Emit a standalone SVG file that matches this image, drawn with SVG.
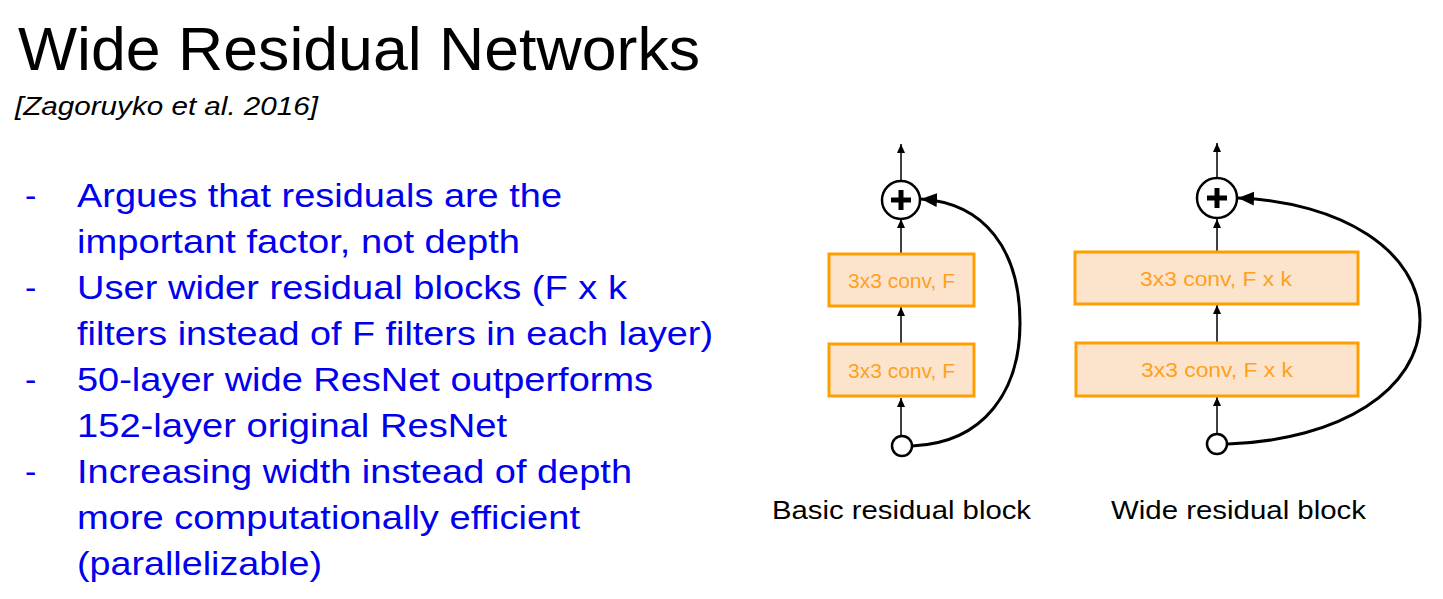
<svg xmlns="http://www.w3.org/2000/svg" width="1443" height="599" viewBox="0 0 1443 599">
<style>
.t{font-family:"Liberation Sans",Arial,sans-serif}
.b{font-family:"Liberation Sans",Arial,sans-serif;font-size:34px;fill:#0000ee}
.box{fill:#fce4cc;stroke:#ff9e00;stroke-width:3}
.bt{font-family:"Liberation Sans",Arial,sans-serif;font-size:20px;fill:#ffa020}
.ln{stroke:#000;stroke-width:1.5;fill:none}
.cv{stroke:#000;stroke-width:3;fill:none}
.nd{fill:#fff;stroke:#000;stroke-width:2.5}
.lb{font-family:"Liberation Sans",Arial,sans-serif;font-size:25px;fill:#000}
</style>
<defs>
<marker id="sa" markerUnits="userSpaceOnUse" markerWidth="10" markerHeight="10" refX="9" refY="5" orient="auto"><path d="M0,1 L9,5 L0,9 Z" fill="#000"/></marker>
<marker id="la" markerUnits="userSpaceOnUse" markerWidth="18" markerHeight="16" refX="16" refY="8" orient="auto"><path d="M0,1 L16,8 L0,15 Z" fill="#000"/></marker>
</defs>
<rect width="1443" height="599" fill="#fff"/>
<text class="t" x="18" y="70" font-size="62" textLength="682" lengthAdjust="spacingAndGlyphs">Wide Residual Networks</text>
<text class="t" x="15" y="115" font-size="26" font-style="italic" textLength="303" lengthAdjust="spacingAndGlyphs">[Zagoruyko et al. 2016]</text>
<g id="bullets">
<text class="b" x="25" y="207">-</text><text class="b" x="77" y="207" textLength="485" lengthAdjust="spacingAndGlyphs">Argues that residuals are the</text>
<text class="b" x="77" y="253" textLength="443" lengthAdjust="spacingAndGlyphs">important factor, not depth</text>
<text class="b" x="25" y="299">-</text><text class="b" x="77" y="299" textLength="550" lengthAdjust="spacingAndGlyphs">User wider residual blocks (F x k</text>
<text class="b" x="77" y="345" textLength="636" lengthAdjust="spacingAndGlyphs">filters instead of F filters in each layer)</text>
<text class="b" x="25" y="391">-</text><text class="b" x="77" y="391" textLength="576" lengthAdjust="spacingAndGlyphs">50-layer wide ResNet outperforms</text>
<text class="b" x="77" y="437" textLength="430" lengthAdjust="spacingAndGlyphs">152-layer original ResNet</text>
<text class="b" x="25" y="483">-</text><text class="b" x="77" y="483" textLength="555" lengthAdjust="spacingAndGlyphs">Increasing width instead of depth</text>
<text class="b" x="77" y="529" textLength="503" lengthAdjust="spacingAndGlyphs">more computationally efficient</text>
<text class="b" x="77" y="575" textLength="245" lengthAdjust="spacingAndGlyphs">(parallelizable)</text>
</g>
<g id="connectors">
<line class="ln" x1="901" y1="181" x2="901" y2="144" marker-end="url(#sa)"/>
<line class="ln" x1="901" y1="253" x2="901" y2="219" marker-end="url(#sa)"/>
<line class="ln" x1="901" y1="344" x2="901" y2="307" marker-end="url(#sa)"/>
<line class="ln" x1="901" y1="435" x2="901" y2="398" marker-end="url(#sa)"/>
<path class="cv" d="M912,446 C985,443 1020,390 1020,323 C1020,250 985,203 921,199" marker-end="url(#la)"/>
<line class="ln" x1="1217" y1="178" x2="1217" y2="143" marker-end="url(#sa)"/>
<line class="ln" x1="1217" y1="252" x2="1217" y2="219" marker-end="url(#sa)"/>
<line class="ln" x1="1217" y1="343" x2="1217" y2="305" marker-end="url(#sa)"/>
<line class="ln" x1="1217" y1="434" x2="1217" y2="397" marker-end="url(#sa)"/>
<path class="cv" d="M1228,444 C1340,440 1420,390 1420,320 C1420,250 1340,202 1238,198" marker-end="url(#la)"/>
</g>
<g id="basic-plus"><circle class="nd" cx="901" cy="200" r="19"/><path d="M901,190 V210 M891,200 H911" stroke="#000" stroke-width="5"/></g>
<g id="basic-conv2"><rect class="box" x="829" y="254" width="145" height="52"/><text class="bt" x="848" y="288" textLength="107" lengthAdjust="spacingAndGlyphs">3x3 conv, F</text></g>
<g id="basic-conv1"><rect class="box" x="829" y="344" width="145" height="52"/><text class="bt" x="848" y="378" textLength="107" lengthAdjust="spacingAndGlyphs">3x3 conv, F</text></g>
<g id="basic-in"><circle class="nd" cx="902" cy="446" r="10"/></g>
<g id="wide-plus"><circle class="nd" cx="1217" cy="198" r="20"/><path d="M1217,188 V208 M1207,198 H1227" stroke="#000" stroke-width="5"/></g>
<g id="wide-conv2"><rect class="box" x="1075" y="252" width="283" height="52"/><text class="bt" x="1140" y="286" textLength="152" lengthAdjust="spacingAndGlyphs">3x3 conv, F x k</text></g>
<g id="wide-conv1"><rect class="box" x="1076" y="343" width="282" height="53"/><text class="bt" x="1141" y="377" textLength="152" lengthAdjust="spacingAndGlyphs">3x3 conv, F x k</text></g>
<g id="wide-in"><circle class="nd" cx="1217" cy="444" r="10"/></g>
<text class="lb" x="772" y="519" textLength="259" lengthAdjust="spacingAndGlyphs">Basic residual block</text>
<text class="lb" x="1111" y="519" textLength="255" lengthAdjust="spacingAndGlyphs">Wide residual block</text>
</svg>
